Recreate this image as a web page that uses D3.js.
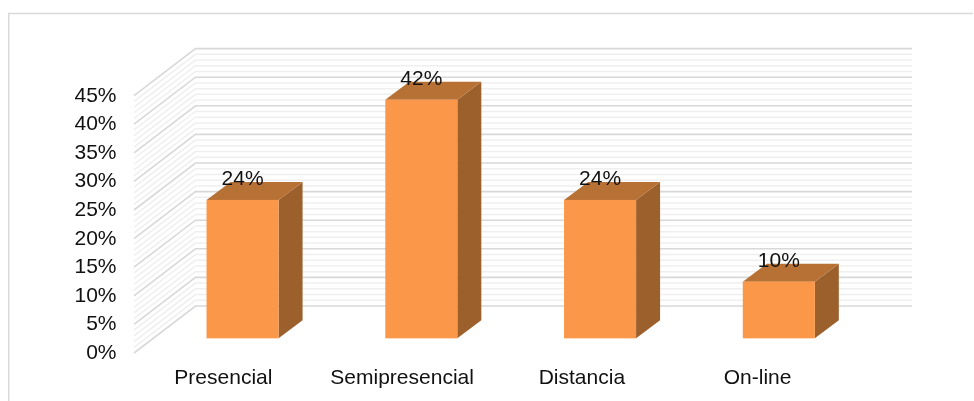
<!DOCTYPE html>
<html><head><meta charset="utf-8">
<style>html,body{margin:0;padding:0;background:#fff}svg{display:block;filter:blur(0.35px)}text{font-family:"Liberation Sans",Arial,sans-serif;fill:#111}</style>
<script src="https://cdn.jsdelivr.net/npm/d3@7"></script></head><body>
<svg width="974" height="401"></svg>
<script>
const categories = ["Presencial","Semipresencial","Distancia","On-line"];
const values = [24.2,41.7,24.2,9.9];
const ticks = [0,5,10,15,20,25,30,35,40,45];
const minorTicks = d3.range(0,46).filter(d=>d%5!==0);

const svg = d3.select("svg");
const W=974,H=401;
const fs=21;
// 3D frame
const y = d3.scaleLinear().domain([0,45]).range([353,95.6]);
const x = d3.scaleBand().domain(categories).range([134,849]).paddingInner(0.597).paddingOuter(0.2985);
const wallDx=61.5, wallDy=-47.0, wallRight=912;
const barOff=wallDx*0.312, barOffY=wallDy*0.312, barDx=24, barDy=-18;

svg.append("rect").attr("width",W).attr("height",H).attr("fill","#fff");
svg.append("path").attr("d",`M8.75,${H}V13.5H973`).attr("fill","none").attr("stroke","#d9d9d9").attr("stroke-width",1.5);

const grid=svg.append("g").attr("fill","none");
function wall(list,color,w){
  grid.selectAll(null).data(list).join("path")
   .attr("stroke",color).attr("stroke-width",w)
   .attr("d",d=>`M134,${y(d)}L${134+wallDx},${y(d)+wallDy}H${wallRight}`);
}
wall(minorTicks,"#efefef",1.5);
wall(ticks,"#d8d8d8",1.6);

// axis labels
svg.append("g").selectAll("text").data(ticks).join("text")
  .attr("x",116.5).attr("y",d=>y(d)+fs*0.29).attr("text-anchor","end")
  .attr("font-size",fs).text(d=>d+"%");

// bars
const data=categories.map((c,i)=>({c,v:values[i]}));
const bars=svg.append("g").selectAll("g").data(data).join("g");
const bw=x.bandwidth();
const bx=d=>x(d.c)+barOff, by0=y(0)+barOffY;
const topY=d=>y(d.v)+barOffY;
bars.append("path").attr("fill","#9c602d")
  .attr("d",d=>`M${bx(d)+bw},${topY(d)}l${barDx},${barDy}V${by0+barDy}L${bx(d)+bw},${by0}Z`);
bars.append("path").attr("fill","#b87135")
  .attr("d",d=>`M${bx(d)},${topY(d)}l${barDx},${barDy}h${bw}l${-barDx},${-barDy}Z`);
bars.append("rect").attr("fill","#fb9748")
  .attr("x",bx).attr("y",topY).attr("width",bw).attr("height",d=>by0-topY(d));

// data labels
svg.append("g").selectAll("text").data(data).join("text")
  .attr("x",d=>bx(d)+bw/2).attr("y",d=>topY(d)+barDy+3).attr("text-anchor","middle")
  .attr("font-size",fs).text(d=>Math.round(d.v)+"%");

// category labels
svg.append("g").selectAll("text").data(categories).join("text")
  .attr("x",d=>x(d)+bw/2+(d==="On-line"?-2:d==="Distancia"?1:0)).attr("y",384).attr("text-anchor","middle")
  .attr("font-size",fs).text(d=>d);
</script></body></html>
